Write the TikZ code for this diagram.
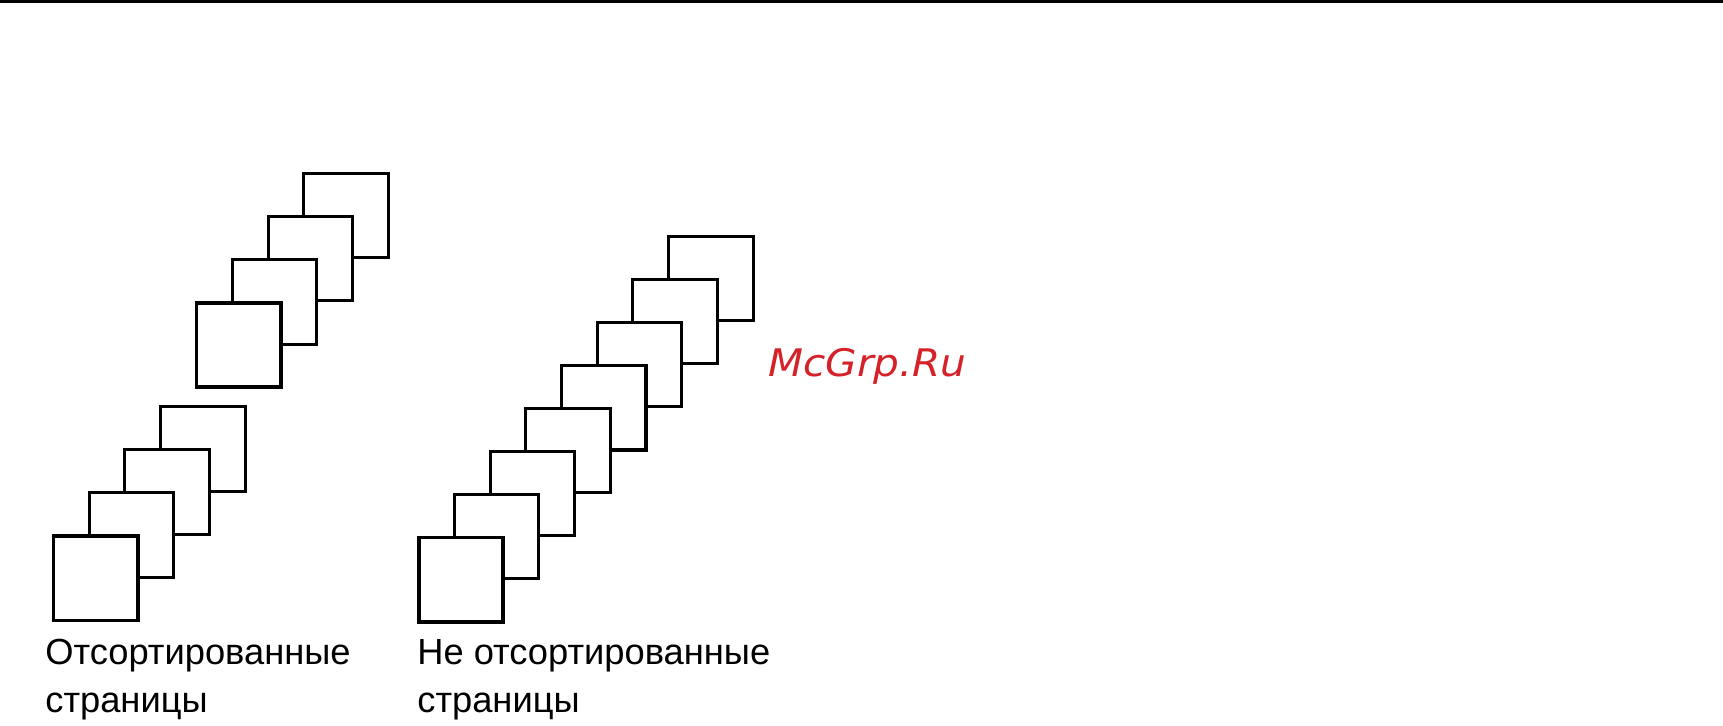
\documentclass[tikz,border=0pt]{standalone}
\usepackage{fontspec}
\setmainfont{Liberation Sans}
\newfontfamily\markfont{DejaVu Sans}
\definecolor{markred}{RGB}{212,34,40}
\begin{document}
\begin{tikzpicture}[x=0.02cm, y=-0.02cm,
  page/.style={rectangle, draw, fill=white, line width=1.7pt, minimum size=1.69cm, inner sep=0pt, outer sep=0pt},
  frontpage/.style={page, line width=2pt},
  caption/.style={anchor=base west, inner sep=0pt, align=left, font=\fontsize{20.66pt}{27pt}\selectfont}]
\useasboundingbox (0,0) rectangle (1723,726);
% Rule along the top edge
\fill (0,0) rectangle (1723,3);
% Sorted pages, lower stack (back to front)
\foreach \k/\st in {3/page,2/page,1/page,0/frontpage}
  \node[\st] (low\k) at ({95.5+35.8*\k},{578.4-43.2*\k}) {};
% Sorted pages, upper stack
\foreach \k/\st in {3/page,2/page,1/page,0/frontpage}
  \node[\st] (up\k) at ({238.7+35.8*\k},{345-43.2*\k}) {};
% Unsorted pages
\foreach \k/\st in {7/page,6/page,5/page,4/frontpage,3/page,2/page,1/page,0/frontpage}
  \node[\st] (mix\k) at ({461+35.7*\k},{579.5-43*\k}) {};
% Captions (base = last line)
\node[caption] (sortlab) at (45,712.3) {Отсортированные\\страницы};
\node[caption] (mixlab) at (417,712.3) {Не отсортированные\\страницы};
% Watermark
\node[anchor=base west, inner sep=0pt, xscale=1.07, text=markred, font=\markfont\itshape\fontsize{21.6pt}{26pt}\selectfont] (mark) at (768,376.7) {McGrp.Ru};
\end{tikzpicture}
\end{document}
